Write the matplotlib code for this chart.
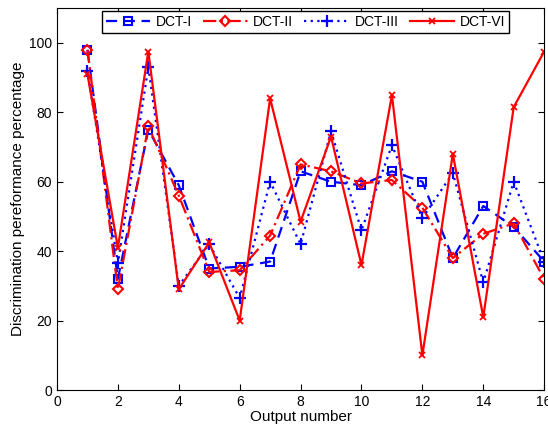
import matplotlib.pyplot as plt

plt.rcParams['font.family'] = ['Liberation Sans', 'DejaVu Sans']

outputs = list(range(1, 17))
dct_1 = [98, 32, 75, 59, 35, 35.5, 37, 63, 60, 59, 63, 60, 38, 53, 47, 37]
dct_2 = [98, 29, 76, 56, 34, 34.5, 44.5, 65, 63, 59.5, 60.5, 52.5, 38, 45, 48, 32]
dct_3 = [92, 36.5, 93, 30, 42, 26.5, 60, 42, 74.5, 46, 70.5, 49.5, 62.5, 31, 60, 37]
dct_6 = [91, 41, 97.5, 29, 42.5, 20, 84, 48.5, 73, 36, 85, 10, 68, 21, 81.5, 97.5]

fig = plt.figure(figsize=(5.48, 4.30), dpi=100)
ax = fig.add_axes([0.104, 0.093, 0.889, 0.888])

ax.plot(outputs, dct_1, color='blue', linestyle=(0, (5, 3)), linewidth=1.6,
        marker='s', markersize=6, markerfacecolor='none', markeredgewidth=1.5, label='DCT-I')
ax.plot(outputs, dct_2, color='red', linestyle=(0, (6, 2, 1, 2)), linewidth=1.6,
        marker='D', markersize=5, markerfacecolor='none', markeredgewidth=1.5, label='DCT-II')
ax.plot(outputs, dct_3, color='blue', linestyle=(0, (1, 2)), linewidth=1.6,
        marker='+', markersize=8, markeredgewidth=1.6, label='DCT-III')
ax.plot(outputs, dct_6, color='red', linestyle='-', linewidth=1.6,
        marker='x', markersize=4, markeredgewidth=1.3, label='DCT-VI')

ax.set_xlim(0, 16)
ax.set_ylim(0, 110)
ax.set_xticks(range(0, 17, 2))
ax.set_yticks(range(0, 101, 20))
ax.tick_params(direction='in', top=True, right=True, labelsize=10, length=4)
ax.set_xlabel('Output number', fontsize=11, labelpad=1)
ax.set_ylabel('Discrimination pereformance percentage', fontsize=11, labelpad=3)

ax.legend(loc='upper center', ncol=4, fontsize=10, frameon=True, fancybox=False,
          edgecolor='black', framealpha=1, borderaxespad=0.2, handlelength=3.2,
          columnspacing=0.8, handletextpad=0.4, borderpad=0.3, bbox_to_anchor=(0.51, 1.0))

fig.savefig('out.png', dpi=100)
